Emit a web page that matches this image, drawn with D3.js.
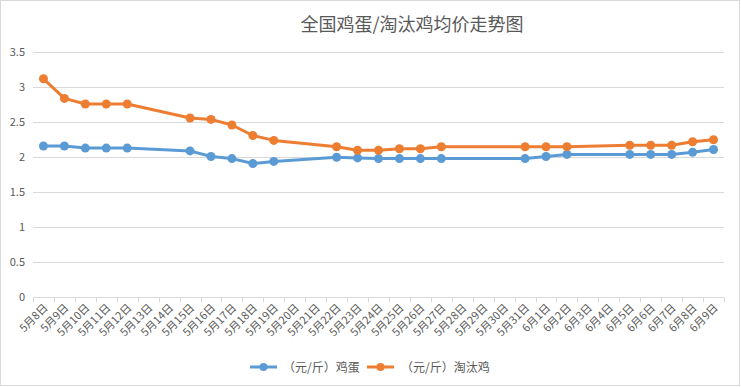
<!DOCTYPE html>
<html><head><meta charset="utf-8">
<script src="https://cdn.jsdelivr.net/npm/d3@7"></script>
<style>body{margin:0;background:#fff;}svg{display:block;font-family:"Microsoft YaHei","Noto Sans CJK SC",sans-serif;}</style>
</head><body>
<svg id="c" width="741" height="387"></svg>
<script>
const categories = ["5月8日","5月9日","5月10日","5月11日","5月12日","5月13日","5月14日","5月15日","5月16日","5月17日","5月18日","5月19日","5月20日","5月21日","5月22日","5月23日","5月24日","5月25日","5月26日","5月27日","5月28日","5月29日","5月30日","5月31日","6月1日","6月2日","6月3日","6月4日","6月5日","6月6日","6月7日","6月8日","6月9日"];
const eggPrice = [2.15,2.15,2.12,2.12,2.12,null,null,2.08,2.00,1.97,1.90,1.93,null,null,1.99,1.98,1.97,1.97,1.97,1.97,null,null,null,1.97,2.00,2.03,null,null,2.03,2.03,2.03,2.06,2.10];
const henPrice = [3.11,2.83,2.75,2.75,2.75,null,null,2.55,2.53,2.45,2.30,2.23,null,null,2.14,2.09,2.09,2.11,2.11,2.14,null,null,null,2.14,2.14,2.14,null,null,2.16,2.16,2.16,2.21,2.24];
const yTicks = [0,0.5,1,1.5,2,2.5,3,3.5];
const seriesNames = ["（元/斤）鸡蛋","（元/斤）淘汰鸡"];
const colors = ["#5B9BD5","#ED7D31"];
const title = "全国鸡蛋/淘汰鸡均价走势图";

const svg = d3.select("#c");
svg.append("rect").attr("x",0.5).attr("y",0.5).attr("width",739).attr("height",385)
  .attr("fill","#fff").attr("stroke","#d9d9d9");

const L=33, R=724, T=51.5, B=296.5;
const x = d3.scaleBand().domain(categories).range([L,R]);
const y = d3.scaleLinear().domain([0,3.5]).range([B,T]);

svg.append("text").attr("x",412).attr("y",31).attr("text-anchor","middle")
  .attr("font-size",18).attr("fill","#595959").text(title);

// grid
svg.append("g").selectAll("line").data(yTicks.filter(d=>d>0)).join("line")
  .attr("x1",L).attr("x2",R).attr("y1",d=>Math.round(y(d))+0.5).attr("y2",d=>Math.round(y(d))+0.5)
  .attr("stroke","#d9d9d9").attr("stroke-width",1);

// y axis labels
svg.append("g").selectAll("text").data(yTicks).join("text")
  .attr("x",25).attr("y",d=>y(d)+4).attr("text-anchor","end")
  .attr("font-size",11).attr("fill","#595959").text(d=>d);

// x axis
const xAxis = d3.axisBottom(x).tickSize(0).tickFormat("");
const gx = svg.append("g").attr("transform",`translate(0,${Math.round(B)+0.5})`).call(xAxis);
gx.select(".domain").attr("stroke","#d9d9d9").attr("d",`M${L},0H${R}`);
const bounds = categories.map(c=>x(c)).concat([R]);
gx.selectAll(".tb").data(bounds).join("line").attr("class","tb")
  .attr("x1",d=>Math.round(d)+0.5).attr("x2",d=>Math.round(d)+0.5).attr("y1",0).attr("y2",5)
  .attr("stroke","#d9d9d9");
svg.append("g").selectAll("text").data(categories).join("text")
  .attr("transform",d=>`translate(${x(d)+x.bandwidth()/2+5},${B+12}) rotate(-45)`)
  .attr("text-anchor","end").attr("font-size",11).attr("fill","#595959").text(d=>d);

// lines
const series = [eggPrice, henPrice];
series.forEach((vals,i)=>{
  const pts = vals.map((v,j)=>({c:categories[j],v})).filter(d=>d.v!==null);
  const line = d3.line().x(d=>x(d.c)+x.bandwidth()/2).y(d=>y(d.v));
  svg.append("path").datum(pts).attr("d",line).attr("fill","none")
    .attr("stroke",colors[i]).attr("stroke-width",3).attr("stroke-linejoin","round").attr("stroke-linecap","round");
  svg.append("g").selectAll("circle").data(pts).join("circle")
    .attr("cx",d=>x(d.c)+x.bandwidth()/2).attr("cy",d=>y(d.v)).attr("r",4.5).attr("fill",colors[i]);
});

// legend
const lg = [{x:250,tx:283},{x:367,tx:401}];
seriesNames.forEach((n,i)=>{
  const g = svg.append("g");
  g.append("line").attr("x1",lg[i].x).attr("x2",lg[i].x+27).attr("y1",367).attr("y2",367)
    .attr("stroke",colors[i]).attr("stroke-width",3);
  g.append("circle").attr("cx",lg[i].x+13.5).attr("cy",367).attr("r",4).attr("fill",colors[i]);
  g.append("text").attr("x",lg[i].tx).attr("y",371.5).attr("font-size",12).attr("fill","#595959").text(n);
});
</script>
</body></html>
